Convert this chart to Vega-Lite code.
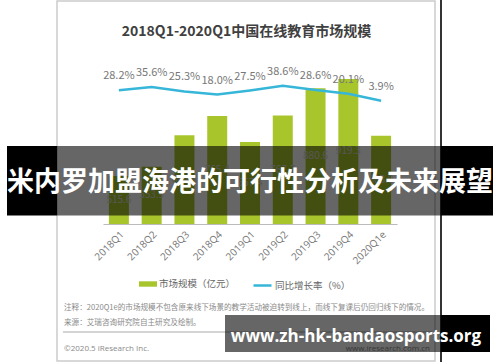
{
  "$schema": "https://vega.github.io/schema/vega-lite/v6.json",
  "width": 294,
  "height": 164,
  "autosize": {"type": "none"},
  "padding": {"left": 103, "top": 60, "right": 103, "bottom": 138},
  "background": "white",
  "config": {"view": {"stroke": null}, "font": "Noto Sans CJK SC"},
  "data": {
    "values": [
      {"q": "2018Q1", "size": 515.6, "rate": 0.282},
      {"q": "2018Q2", "size": 553.9, "rate": 0.356},
      {"q": "2018Q3", "size": 684.8, "rate": 0.253},
      {"q": "2018Q4", "size": 765.4, "rate": 0.180},
      {"q": "2019Q1", "size": 657.4, "rate": 0.275},
      {"q": "2019Q2", "size": 767.7, "rate": 0.386},
      {"q": "2019Q3", "size": 880.6, "rate": 0.286},
      {"q": "2019Q4", "size": 919.3, "rate": 0.201},
      {"q": "2020Q1e", "size": 683.0, "rate": 0.039}
    ]
  },
  "layer": [
    {
      "layer": [
        {
          "mark": {"type": "bar"},
          "encoding": {
            "x": {"field": "q", "type": "nominal", "sort": null, "scale": {"paddingInner": 0.39, "paddingOuter": 0.18}, "axis": {"title": null, "labelAngle": -45, "labelFontSize": 10, "labelColor": "#777", "labelFont": "Open Sans", "ticks": false, "domainColor": "#bbb", "labelPadding": 5}},
            "y": {"field": "size", "type": "quantitative", "scale": {"domain": [316, 998], "zero": false, "nice": false}, "axis": null},
            "y2": {"datum": 316},
            "fill": {"datum": "市场规模（亿元）", "type": "nominal", "scale": {"range": ["#a8c62c"]}, "legend": {"orient": "none", "legendX": 36, "legendY": 215, "title": null, "padding": 0, "symbolType": "M-1,-0.3H1V0.3H-1Z", "symbolSize": 324, "symbolStrokeWidth": 0, "labelFontSize": 9.5, "labelColor": "#666", "labelFont": "Noto Sans CJK SC", "labelOffset": 2}}
          }
        },
        {
          "mark": {"type": "text", "fontSize": 10, "fill": "#d8d8d8"},
          "encoding": {
            "x": {"field": "q", "type": "nominal", "sort": null, "scale": {"paddingInner": 0.39, "paddingOuter": 0.18}, "axis": {"title": null, "labelAngle": -45, "labelFontSize": 10, "labelColor": "#777", "labelFont": "Open Sans", "ticks": false, "domainColor": "#bbb", "labelPadding": 5}},
            "y": {"field": "size", "type": "quantitative", "scale": {"domain": [316, 1680], "zero": false, "nice": false}, "axis": null},
            "text": {"field": "size", "type": "quantitative", "format": ".1f"}
          }
        },
        {
          "mark": {"type": "line", "strokeWidth": 2.5},
          "encoding": {
            "x": {"field": "q", "type": "nominal", "sort": null, "scale": {"paddingInner": 0.39, "paddingOuter": 0.18}, "axis": {"title": null, "labelAngle": -45, "labelFontSize": 10, "labelColor": "#777", "labelFont": "Open Sans", "ticks": false, "domainColor": "#bbb", "labelPadding": 5}},
            "y": {"field": "rate", "type": "quantitative", "scale": {"domain": [-2.815, 0.981], "zero": false, "nice": false}, "axis": null},
            "stroke": {"datum": "同比增长率（%）", "type": "nominal", "scale": {"range": ["#36b6d8"]}, "legend": {"orient": "none", "legendX": 149, "legendY": 215, "title": null, "padding": 0, "symbolType": "stroke", "symbolSize": 324, "symbolStrokeWidth": 2.5, "labelFontSize": 9.5, "labelColor": "#666", "labelFont": "Noto Sans CJK SC", "labelOffset": 2}}
          }
        },
        {
          "mark": {"type": "text", "dy": -14, "fontSize": 11, "fill": "#777"},
          "encoding": {
            "x": {"field": "q", "type": "nominal", "sort": null, "scale": {"paddingInner": 0.39, "paddingOuter": 0.18}, "axis": {"title": null, "labelAngle": -45, "labelFontSize": 10, "labelColor": "#777", "labelFont": "Open Sans", "ticks": false, "domainColor": "#bbb", "labelPadding": 5}},
            "y": {"field": "rate", "type": "quantitative", "scale": {"domain": [-2.815, 0.981], "zero": false, "nice": false}, "axis": null},
            "text": {"field": "rate", "type": "quantitative", "format": ".1%"}
          }
        }
      ],
      "resolve": {"scale": {"y": "independent"}}
    },
    {
      "data": {"values": [{}]},
      "layer": [
        {
          "mark": {"type": "rect", "fillOpacity": 0, "stroke": "#cccccc", "strokeWidth": 1.5},
          "encoding": {
            "x": {"datum": 57, "type": "quantitative", "scale": {"domain": [103, 397], "zero": false, "nice": false}, "axis": null},
            "x2": {"datum": 435},
            "y": {"datum": 1, "type": "quantitative", "scale": {"domain": [60, 224], "reverse": true, "zero": false, "nice": false}, "axis": null},
            "y2": {"datum": 361}
          }
        },
        {
          "mark": {"type": "rule", "stroke": "#333333", "strokeWidth": 2},
          "encoding": {
            "x": {"datum": 441, "type": "quantitative"},
            "y": {"datum": 0, "type": "quantitative"},
            "y2": {"datum": 362}
          }
        },
        {
          "mark": {"type": "rule", "stroke": "#aaaaaa", "strokeWidth": 1},
          "encoding": {
            "x": {"datum": 63, "type": "quantitative"},
            "x2": {"datum": 432},
            "y": {"datum": 332, "type": "quantitative"}
          }
        },
        {
          "mark": {"type": "text", "text": "2018Q1-2020Q1中国在线教育市场规模", "fontSize": 14, "fontWeight": "bold", "fill": "#404040", "font": "Noto Sans CJK SC"},
          "encoding": {
            "x": {"datum": 246.5, "type": "quantitative"},
            "y": {"datum": 32, "type": "quantitative"}
          }
        },
        {
          "mark": {"type": "text", "text": "注释：2020Q1e的市场规模不包含原来线下场景的教学活动被迫转到线上，而线下复课后仍回归线下的情况。", "fontSize": 7.6, "fill": "#8a8a8a", "align": "left", "font": "Noto Sans CJK SC"},
          "encoding": {
            "x": {"datum": 64, "type": "quantitative"},
            "y": {"datum": 308, "type": "quantitative"}
          }
        },
        {
          "mark": {"type": "text", "text": "来源：艾瑞咨询研究院自主研究及绘制。", "fontSize": 7.6, "fill": "#8a8a8a", "align": "left", "font": "Noto Sans CJK SC"},
          "encoding": {
            "x": {"datum": 64, "type": "quantitative"},
            "y": {"datum": 323, "type": "quantitative"}
          }
        },
        {
          "mark": {"type": "text", "text": "©2020.5 iResearch Inc.", "fontSize": 8, "fill": "#8a8a8a", "align": "left", "font": "Open Sans"},
          "encoding": {
            "x": {"datum": 64, "type": "quantitative"},
            "y": {"datum": 349, "type": "quantitative"}
          }
        },
        {
          "mark": {"type": "text", "text": "www.iresearch.com.cn", "fontSize": 8, "fill": "#8a8a8a", "align": "right", "font": "Open Sans"},
          "encoding": {
            "x": {"datum": 430, "type": "quantitative"},
            "y": {"datum": 349, "type": "quantitative"}
          }
        },
        {
          "mark": {"type": "rect", "fill": "#000000"},
          "encoding": {
            "x": {"datum": 7, "type": "quantitative"},
            "x2": {"datum": 57},
            "y": {"datum": 146, "type": "quantitative"},
            "y2": {"datum": 215.5}
          }
        },
        {
          "mark": {"type": "rect", "fill": "#000000", "fillOpacity": 0.6},
          "encoding": {
            "x": {"datum": 57, "type": "quantitative"},
            "x2": {"datum": 441},
            "y": {"datum": 146, "type": "quantitative"},
            "y2": {"datum": 215.5}
          }
        },
        {
          "mark": {"type": "rect", "fill": "#000000"},
          "encoding": {
            "x": {"datum": 441, "type": "quantitative"},
            "x2": {"datum": 493},
            "y": {"datum": 146, "type": "quantitative"},
            "y2": {"datum": 215.5}
          }
        },
        {
          "mark": {"type": "text", "text": "米内罗加盟海港的可行性分析及未来展望", "fontSize": 27, "fontWeight": "bold", "fill": "#ffffff", "font": "Noto Sans CJK SC"},
          "encoding": {
            "x": {"datum": 250, "type": "quantitative"},
            "y": {"datum": 183, "type": "quantitative"}
          }
        },
        {
          "mark": {"type": "rect", "fill": "#000000", "fillOpacity": 0.6},
          "encoding": {
            "x": {"datum": 225, "type": "quantitative"},
            "x2": {"datum": 441},
            "y": {"datum": 315, "type": "quantitative"},
            "y2": {"datum": 352}
          }
        },
        {
          "mark": {"type": "rect", "fill": "#000000"},
          "encoding": {
            "x": {"datum": 441, "type": "quantitative"},
            "x2": {"datum": 490},
            "y": {"datum": 315, "type": "quantitative"},
            "y2": {"datum": 352}
          }
        },
        {
          "mark": {"type": "text", "text": "www.zh-hk-bandaosports.org", "fontSize": 17, "fontWeight": "bold", "fill": "#ffffff", "font": "Open Sans"},
          "encoding": {
            "x": {"datum": 356, "type": "quantitative"},
            "y": {"datum": 337, "type": "quantitative"}
          }
        }
      ]
    }
  ],
  "resolve": {"scale": {"x": "independent", "y": "independent"}}
}
